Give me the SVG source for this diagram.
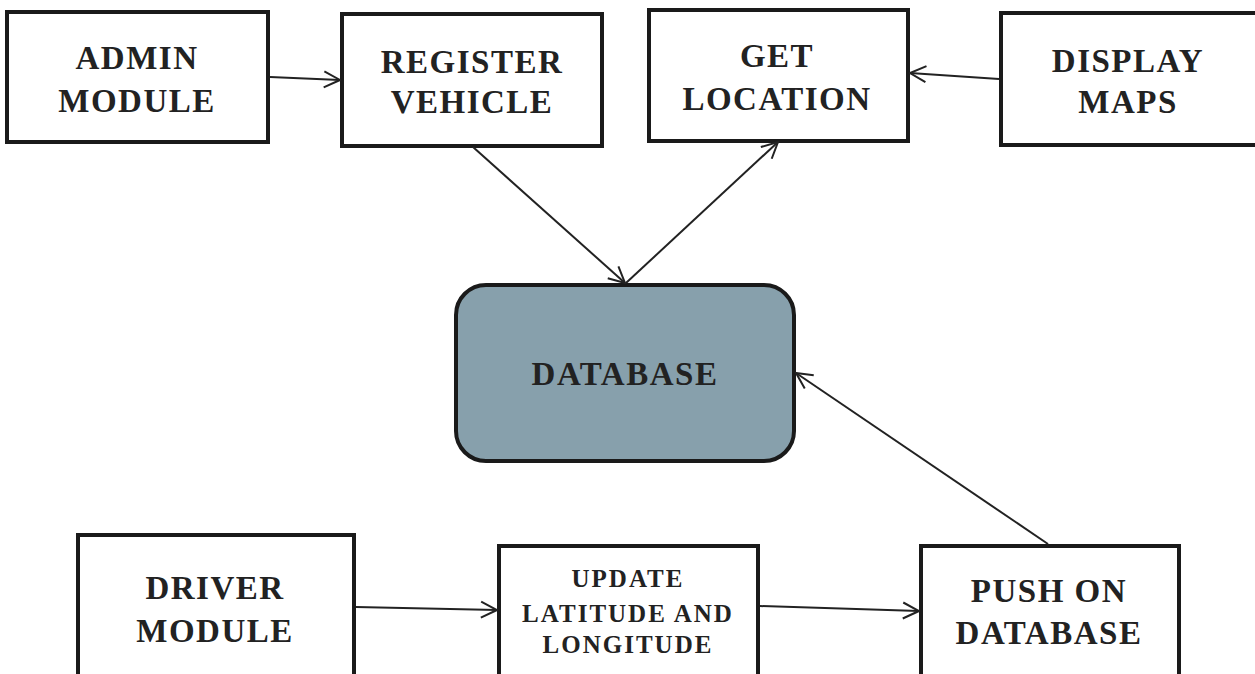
<svg xmlns="http://www.w3.org/2000/svg" width="1255" height="674" viewBox="0 0 1255 674">
<style>
.box{fill:#fff;stroke:#1a1a1a;stroke-width:4}
.db{fill:#87a0ac;stroke:#1a1a1a;stroke-width:4}
.t{font-family:"Liberation Serif","Times New Roman",serif;font-weight:bold;font-size:33px;fill:#222;text-anchor:middle;letter-spacing:1.5px}
.s{font-size:25px;letter-spacing:2px}
.c{stroke:#222;stroke-width:2;fill:none;marker-end:url(#ah)}
</style>
<defs>
<marker id="ah" viewBox="0 0 20 20" refX="19" refY="10" markerWidth="20" markerHeight="20" markerUnits="userSpaceOnUse" orient="auto">
<path d="M3 2 L19 10 L3 18" fill="none" stroke="#222" stroke-width="2"/>
</marker>
</defs>
<rect width="1255" height="674" fill="#fff"/>
<g id="admin"><rect class="box" x="7" y="12" width="261" height="130"/><text class="t" x="137" y="69">ADMIN</text><text class="t" x="137" y="112">MODULE</text></g>
<g id="register"><rect class="box" x="342" y="14" width="260" height="132"/><text class="t" x="472" y="73">REGISTER</text><text class="t" x="472" y="113">VEHICLE</text></g>
<g id="getloc"><rect class="box" x="649" y="10" width="259" height="131"/><text class="t" x="777" y="67">GET</text><text class="t" x="777" y="110">LOCATION</text></g>
<g id="display"><rect class="box" x="1001" y="13" width="260" height="132"/><text class="t" x="1128" y="72">DISPLAY</text><text class="t" x="1128" y="113">MAPS</text></g>
<g id="database"><rect class="db" x="456" y="285" width="338" height="176" rx="30" ry="30"/><text class="t" x="625" y="385">DATABASE</text></g>
<g id="driver"><rect class="box" x="78" y="535" width="276" height="150"/><text class="t" x="215" y="599">DRIVER</text><text class="t" x="215" y="642">MODULE</text></g>
<g id="update"><rect class="box" x="499" y="546" width="259" height="140"/><text class="t s" x="628" y="587">UPDATE</text><text class="t s" x="628" y="622">LATITUDE AND</text><text class="t s" x="628" y="653">LONGITUDE</text></g>
<g id="push"><rect class="box" x="921" y="546" width="258" height="140"/><text class="t" x="1049" y="602">PUSH ON</text><text class="t" x="1049" y="644">DATABASE</text></g>
<g id="connectors">
<line class="c" x1="270" y1="77" x2="340" y2="80"/>
<line class="c" x1="473" y1="147" x2="625" y2="283"/>
<line class="c" x1="626" y1="283" x2="778" y2="142"/>
<line class="c" x1="999" y1="79" x2="910" y2="73"/>
<line class="c" x1="1048" y1="544" x2="796" y2="373"/>
<line class="c" x1="356" y1="607" x2="497" y2="610"/>
<line class="c" x1="760" y1="606" x2="919" y2="611"/>
</g>
</svg>
